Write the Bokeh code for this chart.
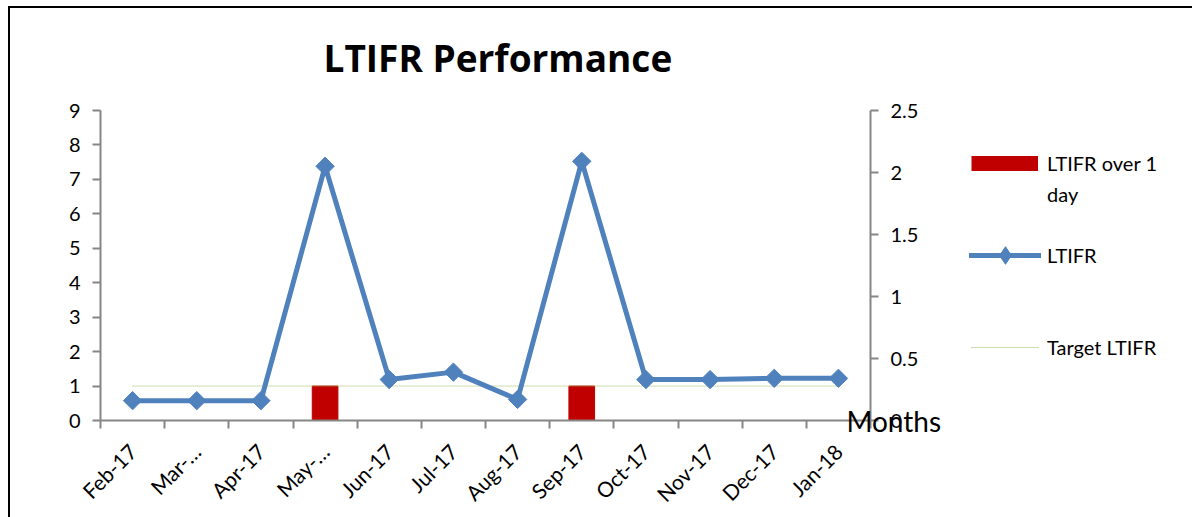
import math
from bokeh.plotting import figure
from bokeh.layouts import row
from bokeh.models import Range1d, LinearAxis, FixedTicker, Legend, LegendItem
from bokeh.embed import file_html
from bokeh.resources import INLINE

months = ["Feb-17", "Mar-…", "Apr-17", "May-…", "Jun-17", "Jul-17",
          "Aug-17", "Sep-17", "Oct-17", "Nov-17", "Dec-17", "Jan-18"]
ltifr_over_1_day = [0, 0, 0, 1, 0, 0, 0, 1, 0, 0, 0, 0]
ltifr = [0.16, 0.16, 0.16, 2.05, 0.33, 0.39, 0.17, 2.09, 0.33, 0.33, 0.34, 0.34]
target_ltifr = [1, 1, 1, 1, 1, 1, 1, 1, 1, 1, 1, 1]
left_ticks = [0, 1, 2, 3, 4, 5, 6, 7, 8, 9]
right_ticks = [0, 0.5, 1, 1.5, 2, 2.5]
right_tick_labels = ["0", "0.5", "1", "1.5", "2", "2.5"]

FONT = "Lato"
AXIS_COL = "#868686"
BAR_COL = "#C00000"
LINE_COL = "#4F81BD"
TGT_COL = "#9BBB59"

n = len(months)
xc = [i + 0.5 for i in range(n)]

# page geometry: canvases start at page (0, 0)
H = 517
SPLIT = 958                        # page x where legend panel begins
FL, FT, FR, FB = 100, 110, 870, 420
W1 = SPLIT
W2 = 1192 - SPLIT

# black frame lines of the original picture, painted as element background
BG_MAIN = ("linear-gradient(#000, #000) 8px 6px / 2px 100% no-repeat, "
           "linear-gradient(#000, #000) 8px 6px / 100% 2px no-repeat, #fff")
BG_SIDE = "linear-gradient(#000, #000) 0 6px / 100% 2px no-repeat, #fff"

p = figure(width=W1, height=H, output_backend="svg", toolbar_location=None,
           x_range=Range1d(0, n), y_range=Range1d(0, 9),
           min_border_left=FL, min_border_right=SPLIT - FR,
           min_border_top=FT, min_border_bottom=H - FB)
p.styles = {"background": BG_MAIN}
p.border_fill_color = None
p.background_fill_color = None
p.outline_line_color = None
p.xgrid.visible = False
p.ygrid.visible = False
p.extra_y_ranges = {"right": Range1d(0, 2.5)}

p.title.text = "LTIFR Performance"
p.title.align = "left"
p.title.offset = 223
p.title.standoff = 56
p.title.text_font = "Open Sans"
p.title.text_font_size = "37px"
p.title.text_font_style = "bold"
p.title.text_color = "black"

# x axis: labels at category centres, tick marks at category boundaries
xa = p.xaxis[0]
xa.ticker = FixedTicker(ticks=xc, minor_ticks=list(range(n + 1)))
xa.major_label_overrides = {x: m for x, m in zip(xc, months)}
xa.major_tick_line_color = None
xa.minor_tick_line_color = AXIS_COL
xa.minor_tick_line_width = 2
xa.minor_tick_out = 8
xa.minor_tick_in = 0
xa.axis_line_color = AXIS_COL
xa.axis_line_width = 2
xa.major_label_orientation = math.pi / 4
xa.major_label_text_font = FONT
xa.major_label_text_font_size = "21px"
xa.major_label_text_color = "black"
xa.major_label_standoff = 19

# left axis
ya = p.yaxis[0]
ya.ticker = FixedTicker(ticks=left_ticks)
ya.minor_tick_line_color = None
ya.major_tick_out = 8
ya.major_tick_in = 0
ya.major_tick_line_color = AXIS_COL
ya.major_tick_line_width = 2
ya.axis_line_color = AXIS_COL
ya.axis_line_width = 2
ya.major_label_text_font = FONT
ya.major_label_text_font_size = "20px"
ya.major_label_text_color = "black"
ya.major_label_standoff = 12

# right axis; its title is the stray "Months" caption
ra = LinearAxis(y_range_name="right", ticker=FixedTicker(ticks=right_ticks))
ra.major_label_overrides = {t: l for t, l in zip(right_ticks, right_tick_labels)}
ra.minor_tick_line_color = None
ra.major_tick_out = 8
ra.major_tick_in = 0
ra.major_tick_line_color = AXIS_COL
ra.major_tick_line_width = 2
ra.axis_line_color = AXIS_COL
ra.axis_line_width = 2
ra.major_label_text_font = FONT
ra.major_label_text_font_size = "20px"
ra.major_label_text_color = "black"
ra.major_label_standoff = 12
ra.axis_label = "Months"
ra.axis_label_orientation = "horizontal"
ra.axis_label_align = "start"
ra.axis_label_standoff = -75
ra.axis_label_text_font = FONT
ra.axis_label_text_font_size = "28px"
ra.axis_label_text_font_style = "normal"
ra.axis_label_text_color = "black"
p.add_layout(ra, "right")

# data marks
p.vbar(x=xc, top=ltifr_over_1_day, width=0.4, bottom=0,
       fill_color=BAR_COL, line_color=BAR_COL)
p.line(x=xc, y=target_ltifr, line_color=TGT_COL, line_width=1, line_dash="1 1")
p.line(x=xc, y=ltifr, y_range_name="right", line_color=LINE_COL, line_width=5)
p.scatter(x=xc, y=ltifr, y_range_name="right", marker="square",
          angle=math.pi / 4, size=13, fill_color=LINE_COL, line_color=LINE_COL)

# legend panel (separate canvas so nothing is clipped); proxy renderers carry
# the same series but sit outside this canvas's visible range
q = figure(width=W2, height=H, output_backend="svg", toolbar_location=None,
           x_range=Range1d(-2, -1), y_range=Range1d(0, 1),
           x_axis_type=None, y_axis_type=None,
           min_border_left=0, min_border_right=0, min_border_top=0,
           min_border_bottom=0)
q.styles = {"background": BG_SIDE}
q.border_fill_color = None
q.background_fill_color = None
q.outline_line_color = None
q.grid.visible = False

lg_bar = q.line(x=xc, y=ltifr_over_1_day, line_color=BAR_COL, line_width=15,
                line_cap="butt")
lg_line = q.line(x=xc, y=ltifr, line_color=LINE_COL, line_width=5,
                 line_cap="round")
lg_mk = q.scatter(x=xc, y=ltifr, marker="diamond", fill_color=LINE_COL,
                  line_color=LINE_COL)
lg_tgt = q.line(x=xc, y=target_ltifr, line_color=TGT_COL, line_width=1,
                line_dash="1 1")
lg_blank = q.scatter(x=xc, y=target_ltifr, fill_alpha=0, line_alpha=0)

def add_legend(label, renderers, left, center_y, gw, gh, standoff):
    h = max(gh, 24)
    # q's frame is aligned with p's frame, so y is measured from FB
    lg = Legend(items=[LegendItem(label=label, renderers=renderers)],
                location=(left - SPLIT, FB - (center_y + h / 2)),
                padding=0, margin=0, border_line_color=None,
                background_fill_alpha=0, glyph_width=gw, glyph_height=gh,
                label_height=24, label_standoff=standoff,
                label_text_font=FONT, label_text_font_size="20px",
                label_text_color="black")
    q.add_layout(lg, "center")

add_legend("LTIFR over 1", [lg_bar], 971, 163, 67, 24, 9)
add_legend("day", [lg_blank], 1047, 194, 0, 24, 0)
add_legend("LTIFR", [lg_line, lg_mk], 969, 255, 72, 44, 6)
add_legend("Target LTIFR", [lg_tgt], 971, 347, 68, 24, 8)

layout = row(p, q, spacing=0)
open("out.html", "w").write(file_html(layout, INLINE))
